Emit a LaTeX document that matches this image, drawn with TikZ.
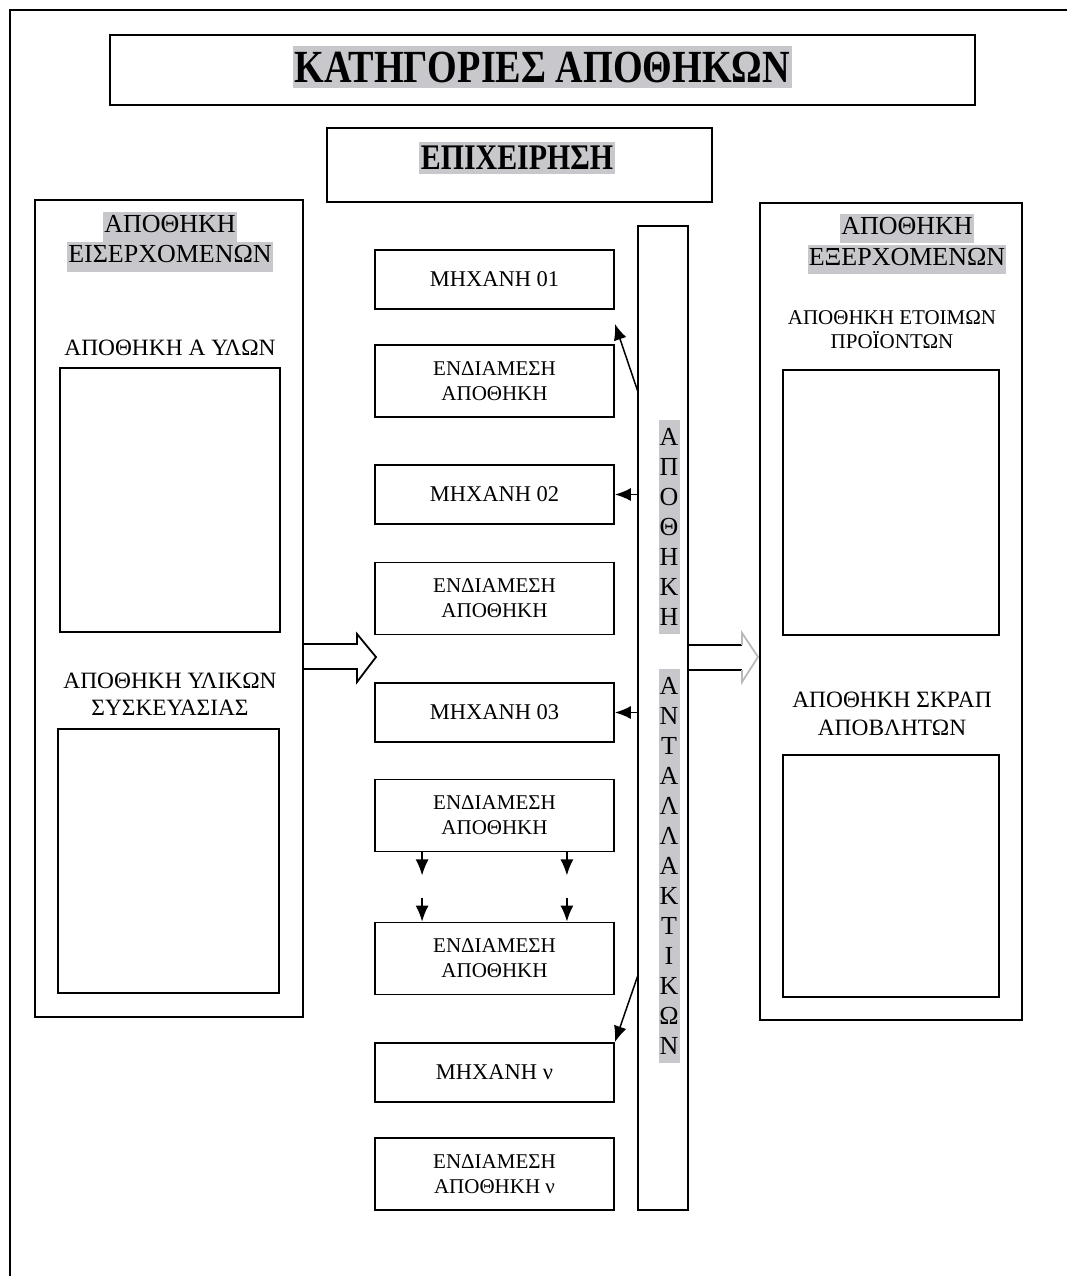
\documentclass[tikz,border=0pt]{standalone}
\usepackage{fontspec}
\setmainfont{Liberation Serif}
\newfontfamily\headfont{Liberation Serif}[FakeStretch=0.83]
\usetikzlibrary{arrows.meta}
\definecolor{hl}{RGB}{200,200,204}
\newcommand{\hlbox}[1]{{\setlength{\fboxsep}{1pt}\colorbox{hl}{\rule[-0.3em]{0pt}{1.05em}#1}}}

\begin{document}
\begin{tikzpicture}[x=1pt,y=-1pt,
    box/.style={draw, line width=1.8pt, inner sep=0pt},
    mach/.style={box, minimum width=239pt, minimum height=59pt, font=\fontsize{22.5}{25}\selectfont},
    buf/.style={box, minimum width=239pt, minimum height=72pt, align=center, font=\fontsize{21}{25}\selectfont},
    lbl/.style={align=center, inner sep=0pt},
    hollow/.style={line width=1.8pt, line join=miter},
    >={Latex[length=16pt,width=13pt]}]

\useasboundingbox (0,0) rectangle (1067,1276);
\draw[line width=1.5pt] (10,1276) -- (10,10) -- (1067,10); % frame

% headings
\node[box, minimum width=865pt, minimum height=70pt] (titlebox) at (542.5,70) {};
\node[fill=hl, inner xsep=2pt, inner ysep=6pt, font=\headfont\bfseries\fontsize{46}{46}\selectfont] (title) at (542.5,67) {ΚΑΤΗΓΟΡΙΕΣ ΑΠΟΘΗΚΩΝ};
\node[box, minimum width=385pt, minimum height=74pt] (firmbox) at (519.5,165) {};
\node[fill=hl, inner xsep=2pt, inner ysep=4pt, font=\headfont\bfseries\fontsize{36}{36}\selectfont] (firm) at (517,158) {ΕΠΙΧΕΙΡΗΣΗ};

% incoming
\node[box, minimum width=268pt, minimum height=817pt] (inbound) at (169,608.5) {};
\node[lbl, font=\fontsize{26}{30}\selectfont] (inTitle) at (170,242) {\hlbox{ΑΠΟΘΗΚΗ}\\\hlbox{ΕΙΣΕΡΧΟΜΕΝΩΝ}};
\node[lbl, font=\fontsize{23.4}{27}\selectfont] (rawLbl) at (170,348) {ΑΠΟΘΗΚΗ Α ΥΛΩΝ};
\node[box, minimum width=220pt, minimum height=264pt] (rawBox) at (170,500) {};
\node[lbl, font=\fontsize{23.4}{27}\selectfont] (packLbl) at (170,694) {ΑΠΟΘΗΚΗ ΥΛΙΚΩΝ\\ΣΥΣΚΕΥΑΣΙΑΣ};
\node[box, minimum width=221pt, minimum height=264pt] (packBox) at (168.5,861) {};

% outgoing
\node[box, minimum width=262pt, minimum height=817pt] (outbound) at (891,611.5) {};
\node[lbl, font=\fontsize{26}{31}\selectfont] (outTitle) at (907,244) {\hlbox{ΑΠΟΘΗΚΗ}\\\hlbox{ΕΞΕΡΧΟΜΕΝΩΝ}};
\node[lbl, font=\fontsize{21}{24}\selectfont] (prodLbl) at (892,330) {ΑΠΟΘΗΚΗ ΕΤΟΙΜΩΝ\\ΠΡΟΪΟΝΤΩΝ};
\node[box, minimum width=216pt, minimum height=265pt] (prodBox) at (891,502.5) {};
\node[lbl, font=\fontsize{23.4}{28}\selectfont] (scrapLbl) at (892,714) {ΑΠΟΘΗΚΗ ΣΚΡΑΠ\\ΑΠΟΒΛΗΤΩΝ};
\node[box, minimum width=216pt, minimum height=242pt] (scrapBox) at (891,876) {};

% production line
\node[mach] (m1) at (494.5,279.5) {ΜΗΧΑΝΗ 01};
\node[buf] (e1) at (494.5,381) {ΕΝΔΙΑΜΕΣΗ\\ΑΠΟΘΗΚΗ};
\node[mach] (m2) at (494.5,494.5) {ΜΗΧΑΝΗ 02};
\node[buf] (e2) at (494.5,598.5) {ΕΝΔΙΑΜΕΣΗ\\ΑΠΟΘΗΚΗ};
\node[mach] (m3) at (494.5,712.5) {ΜΗΧΑΝΗ 03};
\node[buf] (e3) at (494.5,815.5) {ΕΝΔΙΑΜΕΣΗ\\ΑΠΟΘΗΚΗ};
\node[buf] (e4) at (494.5,958.5) {ΕΝΔΙΑΜΕΣΗ\\ΑΠΟΘΗΚΗ};
\node[mach] (m4) at (494.5,1072.5) {ΜΗΧΑΝΗ ν};
\node[buf] (e5) at (494.5,1174) {ΕΝΔΙΑΜΕΣΗ\\ΑΠΟΘΗΚΗ ν};

% spare parts
\node[box, minimum width=50pt, minimum height=984pt] (bar) at (663,718) {};
\node[fill=hl, text width=21pt, align=center, inner xsep=0pt, inner ysep=8pt, font=\fontsize{26}{30}\selectfont] (spare1) at (669,527) {Α\\Π\\Ο\\Θ\\Η\\Κ\\Η};
\node[fill=hl, text width=21pt, align=center, inner xsep=0pt, inner ysep=8pt, font=\fontsize{26}{30}\selectfont] (spare2) at (669,866) {Α\\Ν\\Τ\\Α\\Λ\\Λ\\Α\\Κ\\Τ\\Ι\\Κ\\Ω\\Ν};

% arrows
\coordinate (t1) at (638,392);
\coordinate (t4) at (638,975);
\draw[->, line width=1.5pt] (t1) -- ([yshift=-14pt]m1.south east); % to m1
\draw[->, line width=1.5pt] (bar.west |- m2) -- (m2.east); % to m2
\draw[->, line width=1.5pt] (bar.west |- m3) -- (m3.east); % to m3
\draw[->, line width=1.5pt] (t4) -- (m4.north east); % to mv
\draw[->, line width=1.5pt] ([xshift=48pt]e3.south west) -- ++(0,23); % down left
\draw[->, line width=1.5pt] ([xshift=-48pt]e3.south east) -- ++(0,23); % down right
\draw[->, line width=1.5pt] ([xshift=48pt,yshift=24pt]e4.north west) -- ([xshift=48pt]e4.north west);
\draw[->, line width=1.5pt] ([xshift=-48pt,yshift=24pt]e4.north east) -- ([xshift=-48pt]e4.north east);

% big arrows
\draw[hollow] (inbound.east |- 0,644) -- (357,644) -- (357,634) -- (376,657) -- (357,682) -- (357,669) -- (inbound.east |- 0,669);
\draw[hollow] (bar.east |- 0,645) -- (742,645) (bar.east |- 0,670) -- (742,670);
\draw[hollow, gray!55] (742,645) -- (742,633) -- (758,657) -- (742,682) -- (742,670);
\end{tikzpicture}
\end{document}
